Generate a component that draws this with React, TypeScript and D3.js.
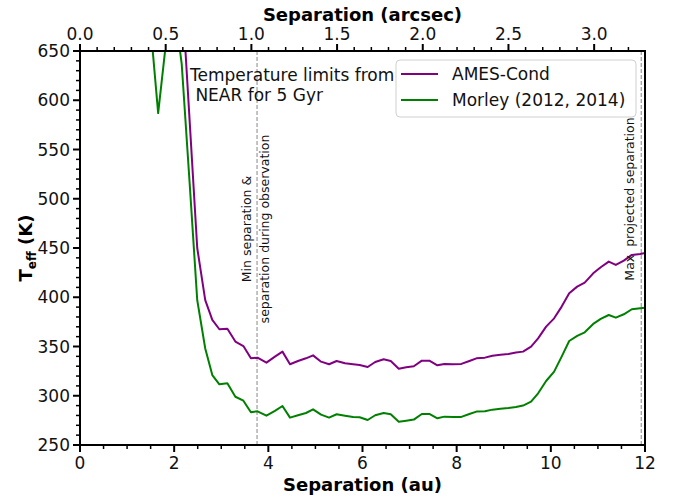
import React from 'react';
import * as d3 from 'd3';

const sepAu = [1.33,1.49,1.66,1.83,1.99,2.16,2.33,2.49,2.66,2.81,2.96,3.13,3.30,3.47,3.63,3.77,3.96,4.14,4.30,4.46,4.63,4.80,4.95,5.12,5.29,5.45,5.63,5.80,5.94,6.11,6.27,6.45,6.60,6.77,6.93,7.09,7.26,7.42,7.59,7.74,7.93,8.10,8.27,8.42,8.60,8.76,8.93,9.10,9.26,9.41,9.58,9.73,9.90,10.07,10.23,10.39,10.56,10.72,10.90,11.06,11.23,11.38,11.55,11.72,11.90,12.06];

const amesCond: (number | null)[] = [null,null,null,null,800,714,578,450,397,377,367.5,368,355,350.5,338,338.7,333.6,339.7,344.8,332,335.3,338,341,334.6,332,335.3,333,332,331.3,329.2,334.3,337,335.3,327.5,328.9,329.9,335.6,335.6,330.9,332.3,332,332.3,335.3,338,338.7,340.7,341.7,342.4,343.8,344.8,349.9,358.3,370.2,378.6,390.5,404,410.8,414.8,424.3,430.4,436.2,432.8,437.2,443,444,445.5];

const morley: (number | null)[] = [900,680,587,660,700,637,515,397,348,321,311.6,312.6,299,295,283.2,284.2,279.8,284.6,289.6,277.8,280.2,282.5,286.2,280.8,277.8,281.2,279.8,278.5,278.1,275.4,280.2,282.5,281.2,273.7,274.7,275.8,281.5,281.5,277.1,278.8,278.5,278.5,281.5,283.9,284.2,285.9,286.9,287.6,288.6,290,294,302.5,315,324.5,339.7,355.6,360.7,364.4,372.9,378,382,379.3,382.7,387.8,388.8,389.5];

const seriesNames = ['AMES-Cond', 'Morley (2012, 2014)'];
const seriesColors = ['purple', 'green'];

const distancePc = 3.64;
const xDomain = [0, 12];
const yDomain = [250, 650];
const bottomTicks = [0, 2, 4, 6, 8, 10, 12];
const topTicks = [0.0, 0.5, 1.0, 1.5, 2.0, 2.5, 3.0];
const leftTicks = [250, 300, 350, 400, 450, 500, 550, 600, 650];

const minSepAu = 3.76;
const maxSepAu = 11.92;

const W = 680, H = 497;
const M = { left: 80, right: 35, top: 51, bottom: 52 };
const FONT = 'DejaVu Sans, sans-serif';

export default function App() {
  const x = d3.scaleLinear().domain(xDomain).range([M.left, W - M.right]);
  const y = d3.scaleLinear().domain(yDomain).range([H - M.bottom, M.top]);
  const xa = d3.scaleLinear().domain([0, xDomain[1] / distancePc]).range([M.left, W - M.right]);

  const line = d3.line<[number, number | null]>()
    .defined(d => d[1] !== null)
    .x(d => x(d[0]))
    .y(d => y(d[1] as number));

  const seriesData = [amesCond, morley].map(s => sepAu.map((a, i) => [a, s[i]] as [number, number | null]));

  const x0 = M.left, x1 = W - M.right, y0 = M.top, y1 = H - M.bottom;

  const bottomMinor = d3.range(0, 12.001, 0.5).filter(v => !bottomTicks.includes(v));
  const leftMinor = d3.range(250, 650.001, 10).filter(v => v % 50 !== 0);
  const topMinor = d3.range(0, xDomain[1] / distancePc, 0.1).filter(v => Math.abs(v * 2 - Math.round(v * 2)) > 1e-6);

  return (
    <svg width={W} height={H} style={{ position: 'absolute', left: 0, top: 0, background: 'white' }} fontFamily={FONT}>
      <defs>
        <clipPath id="plotclip">
          <rect x={x0} y={y0} width={x1 - x0} height={y1 - y0} />
        </clipPath>
      </defs>
      <rect x={0} y={0} width={W} height={H} fill="white" />

      {[minSepAu, maxSepAu].map((v, i) => (
        <line key={i} x1={x(v)} x2={x(v)} y1={y0} y2={y1} stroke="#888" strokeWidth={1} strokeDasharray="4,2" />
      ))}

      <g clipPath="url(#plotclip)">
        {seriesData.map((d, i) => (
          <path key={i} d={line(d) || ''} fill="none" stroke={seriesColors[i]} strokeWidth={2} strokeLinejoin="round" />
        ))}
      </g>

      <text transform={`translate(${250.5},${229}) rotate(-90)`} fontSize={12.5} textAnchor="middle" fill="#111">Min separation &amp;</text>
      <text transform={`translate(${268.5},${229}) rotate(-90)`} fontSize={12.5} textAnchor="middle" fill="#111">separation during observation</text>
      <text transform={`translate(${633.5},${199}) rotate(-90)`} fontSize={12.5} textAnchor="middle" fill="#111" xmlSpace="preserve">Max  projected separation</text>

      <text x={190} y={81} fontSize={17} fill="#111">Temperature limits from</text>
      <text x={190} y={101} fontSize={17} fill="#111" xmlSpace="preserve"> NEAR for 5 Gyr</text>

      <rect x={396} y={60} width={240} height={57} rx={4} fill="white" fillOpacity={0.8} stroke="#d0d0d0" strokeWidth={1} />
      {seriesNames.map((n, i) => (
        <g key={n}>
          <line x1={401} x2={438} y1={74 + i * 26} y2={74 + i * 26} stroke={seriesColors[i]} strokeWidth={2} />
          <text x={452} y={80 + i * 26} fontSize={17} fill="#111">{n}</text>
        </g>
      ))}

      <rect x={x0} y={y0} width={x1 - x0} height={y1 - y0} fill="none" stroke="black" strokeWidth={2} />

      {bottomTicks.map(v => (
        <g key={'b' + v}>
          <line x1={x(v)} x2={x(v)} y1={y1} y2={y1 + 7} stroke="black" strokeWidth={2} />
          <text x={x(v)} y={y1 + 24} fontSize={17} textAnchor="middle" fill="#111">{v}</text>
        </g>
      ))}
      {bottomMinor.map(v => (
        <line key={'bm' + v} x1={x(v)} x2={x(v)} y1={y1} y2={y1 + 4} stroke="black" strokeWidth={1.5} />
      ))}
      <text x={(x0 + x1) / 2} y={491} fontSize={18} fontWeight="bold" textAnchor="middle" fill="#000">Separation (au)</text>

      {leftTicks.map(v => (
        <g key={'l' + v}>
          <line x1={x0 - 7} x2={x0} y1={y(v)} y2={y(v)} stroke="black" strokeWidth={2} />
          <text x={x0 - 10} y={y(v) + 6} fontSize={17} textAnchor="end" fill="#111">{v}</text>
        </g>
      ))}
      {leftMinor.map(v => (
        <line key={'lm' + v} x1={x0 - 4} x2={x0} y1={y(v)} y2={y(v)} stroke="black" strokeWidth={1.5} />
      ))}
      <text transform={`translate(${32},${(y0 + y1) / 2}) rotate(-90)`} fontSize={18} fontWeight="bold" textAnchor="middle" fill="#000">
        T<tspan fontSize={12} dy={4}>eff</tspan><tspan dy={-4}> (K)</tspan>
      </text>

      {topTicks.map(v => (
        <g key={'t' + v}>
          <line x1={xa(v)} x2={xa(v)} y1={y0} y2={y0 - 7} stroke="black" strokeWidth={2} />
          <text x={xa(v)} y={y0 - 11} fontSize={17} textAnchor="middle" fill="#111">{v.toFixed(1)}</text>
        </g>
      ))}
      {topMinor.map(v => (
        <line key={'tm' + v} x1={xa(v)} x2={xa(v)} y1={y0} y2={y0 - 4} stroke="black" strokeWidth={1.5} />
      ))}
      <text x={(x0 + x1) / 2} y={21} fontSize={18} fontWeight="bold" textAnchor="middle" fill="#000">Separation (arcsec)</text>
    </svg>
  );
}
